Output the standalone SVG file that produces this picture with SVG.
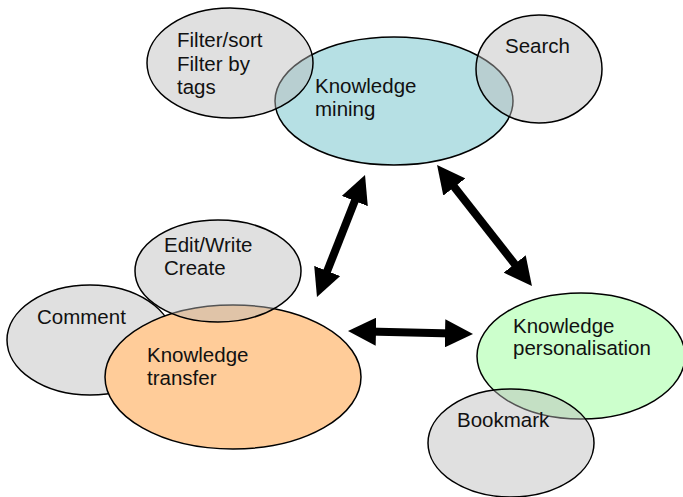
<svg xmlns="http://www.w3.org/2000/svg" width="683" height="497" viewBox="0 0 683 497">
  <style>
    .node { stroke: #000; stroke-width: 1.5; }
    .sub { fill: #bbbbbb; fill-opacity: 0.45; stroke: #000; stroke-width: 1.5; }
    .label { font-family: "Liberation Sans", Arial, sans-serif; font-size: 20.5px; fill: #111; }
    .conn { stroke: #000; stroke-width: 8; fill: none; marker-start: url(#head); marker-end: url(#head); }
  </style>
  <defs>
    <marker id="head" markerUnits="userSpaceOnUse" markerWidth="30" markerHeight="28" refX="8" refY="14" orient="auto-start-reverse">
      <path d="M0,0 L28,14 L0,28 Z" fill="#000"/>
    </marker>
  </defs>
  <rect width="683" height="497" fill="#fff"/>

  <!-- Knowledge mining cluster -->
  <g id="knowledge-mining">
    <ellipse class="node" cx="394" cy="101" rx="119" ry="64" fill="#b6e0e4"/>
    <text class="label" x="315" y="93">Knowledge</text>
    <text class="label" x="315" y="116">mining</text>
  </g>
  <g id="filter-sort">
    <ellipse class="sub" cx="230" cy="63" rx="83" ry="55"/>
    <text class="label" x="177" y="47">Filter/sort</text>
    <text class="label" x="177" y="71">Filter by</text>
    <text class="label" x="177" y="94">tags</text>
  </g>
  <g id="search">
    <ellipse class="sub" cx="539" cy="69" rx="63" ry="54"/>
    <text class="label" x="505" y="53">Search</text>
  </g>

  <!-- Knowledge transfer cluster -->
  <g id="comment">
    <ellipse class="sub" cx="90" cy="340" rx="83" ry="55" fill-opacity="0.48"/>
    <text class="label" x="37" y="324">Comment</text>
  </g>
  <g id="knowledge-transfer">
    <ellipse class="node" cx="233" cy="377" rx="128" ry="72" fill="#ffcc99"/>
    <text class="label" x="147" y="362">Knowledge</text>
    <text class="label" x="147" y="385">transfer</text>
  </g>
  <g id="edit-write">
    <ellipse class="sub" cx="218" cy="271" rx="83" ry="51"/>
    <text class="label" x="164" y="252">Edit/Write</text>
    <text class="label" x="164" y="275">Create</text>
  </g>

  <!-- Knowledge personalisation cluster -->
  <g id="knowledge-personalisation">
    <ellipse class="node" cx="581" cy="356" rx="104" ry="63" fill="#ccffcc"/>
    <text class="label" x="513" y="333">Knowledge</text>
    <text class="label" x="513" y="355">personalisation</text>
  </g>
  <g id="bookmark">
    <ellipse class="sub" cx="511" cy="443" rx="83" ry="54"/>
    <text class="label" x="457" y="427">Bookmark</text>
  </g>

  <!-- Two-way links between the three areas -->
  <g id="connectors">
    <line class="conn" x1="324.3" y1="278.4" x2="357.7" y2="193.6"/>
    <line class="conn" x1="449.4" y1="180.7" x2="519.6" y2="270.3"/>
    <line class="conn" x1="368" y1="331.5" x2="453" y2="333.5"/>
  </g>
</svg>
